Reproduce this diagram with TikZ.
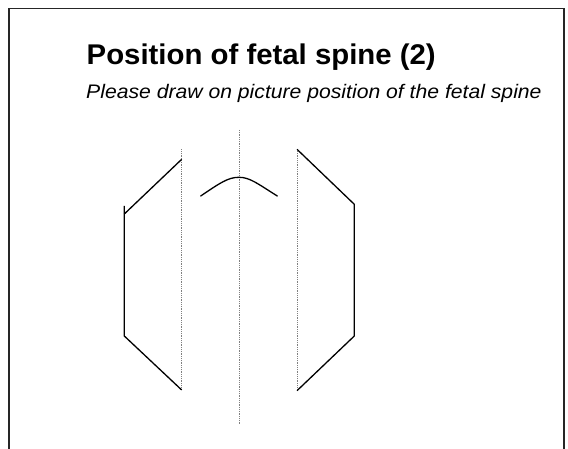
\documentclass[tikz,border=0pt]{standalone}
\usepackage{fontspec}
\setmainfont{Liberation Sans}
\begin{document}
\begin{tikzpicture}[x=1pt,y=-1pt,
  frameline/.style={draw=black!85,line width=1.3pt},
  shapeline/.style={draw=black,line width=1.3pt,line join=miter},
  guideline/.style={draw=black!50,line width=0.7pt,dash pattern=on 0.8pt off 1pt},
  titletext/.style={anchor=base west,inner sep=0pt,font=\fontsize{28.5}{32}\selectfont\bfseries},
  subtext/.style={anchor=base west,inner sep=0pt,font=\fontsize{19.6}{23}\selectfont\itshape}]
\useasboundingbox (0,0) rectangle (568,449);
% frame
\coordinate (fbl) at (9,449);
\coordinate (ftl) at (9,8.5);
\coordinate (ftr) at (564,8.5);
\coordinate (fbr) at (564,449);
\draw[frameline] (fbl) -- (ftl) -- (ftr) -- (fbr);
% texts
\node[titletext] (title) at (86.5,65) {\scalebox{1.03}[1]{Position of fetal spine (2)}};
\node[subtext] (sub) at (86,98.5) {\scalebox{1.08}[1]{Please draw on picture position of the fetal spine}};
% guide lines
\coordinate (lgt) at (181.7,149.3);
\coordinate (lgb) at (181.7,390);
\coordinate (cgt) at (239,130);
\coordinate (cgb) at (239,425);
\coordinate (rgt) at (297,149.3);
\coordinate (rgb) at (297,390);
\draw[guideline] (lgt) -- (lgb);
\draw[guideline] (cgt) -- (cgb);
\draw[guideline] (rgt) -- (rgb);
% left shape
\coordinate (l1) at (181.7,159.3);
\coordinate (l2) at (124.3,214);
\coordinate (l2a) at (124.3,206);
\coordinate (l3) at (124.3,336);
\coordinate (l4) at (181.7,390);
\draw[shapeline] (l1) -- (l2);
\draw[shapeline] (l2a) -- (l3) -- (l4);
% right shape
\coordinate (r1) at (297,149.3);
\coordinate (r2) at (354.3,204.3);
\coordinate (r3) at (354.3,336);
\coordinate (r4) at (297,390.7);
\draw[shapeline] (r1) -- (r2) -- (r3) -- (r4);
% arc
\coordinate (a1) at (200.7,196);
\coordinate (a2) at (239,177.3);
\coordinate (a3) at (277.3,196);
\draw[shapeline,line cap=round] (a1) .. controls (220,183) and (228,177.3) .. (a2) .. controls (250,177.3) and (258,184) .. (a3);
\end{tikzpicture}
\end{document}
